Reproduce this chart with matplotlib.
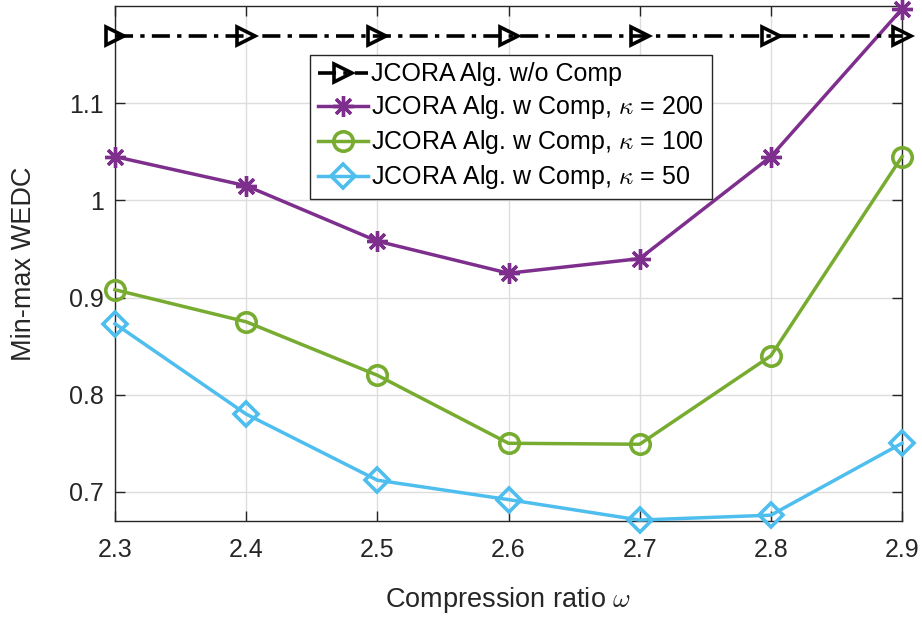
import matplotlib
matplotlib.use("Agg")
import matplotlib.pyplot as plt

plt.rcParams["font.family"] = ["Liberation Sans", "DejaVu Sans"]
plt.rcParams["mathtext.fontset"] = "cm"

# compression ratio on the x axis
omega = [2.3, 2.4, 2.5, 2.6, 2.7, 2.8, 2.9]

# min-max WEDC for each scheme
no_comp = [1.169, 1.169, 1.169, 1.169, 1.169, 1.169, 1.169]
comp_k200 = [1.045, 1.015, 0.958, 0.925, 0.940, 1.045, 1.197]
comp_k100 = [0.908, 0.875, 0.820, 0.750, 0.749, 0.840, 1.045]
comp_k50 = [0.873, 0.780, 0.712, 0.692, 0.671, 0.676, 0.750]

labels = ["JCORA Alg. w/o Comp",
          r"JCORA Alg. w Comp, $\kappa$ = 200",
          r"JCORA Alg. w Comp, $\kappa$ = 100",
          r"JCORA Alg. w Comp, $\kappa$ = 50"]

xticks = [2.3, 2.4, 2.5, 2.6, 2.7, 2.8, 2.9]
yticks = [0.7, 0.8, 0.9, 1.0, 1.1]
yticklabels = ["0.7", "0.8", "0.9", "1", "1.1"]

fig = plt.figure(figsize=(9.22, 6.20), dpi=100)
ax = fig.add_axes([115 / 922, 1 - 521 / 620, 787 / 922, 515 / 620])

ax.plot(omega, no_comp, color="black", linestyle=(0, (5, 2, 1.2, 2)), lw=2.6,
        marker=">", ms=13, mfc="none", mew=2.6, label=labels[0], clip_on=False, zorder=5)
ax.plot(omega, comp_k200, color="#7E2F8E", lw=2.5, marker=(8, 2, 0), ms=15, mew=2.4,
        label=labels[1], clip_on=False, zorder=4)
ax.plot(omega, comp_k100, color="#77AC30", lw=2.5, marker="o", ms=14, mfc="none", mew=2.6,
        label=labels[2], clip_on=False, zorder=4)
ax.plot(omega, comp_k50, color="#4DBEEE", lw=2.5, marker="D", ms=12, mfc="none", mew=2.6,
        label=labels[3], clip_on=False, zorder=4)

ax.set_xlim(2.3, 2.9)
ax.set_ylim(0.67, 1.2)
ax.set_xticks(xticks)
ax.set_xticklabels([f"{v:.1f}" for v in xticks])
ax.set_yticks(yticks)
ax.set_yticklabels(yticklabels)

ax.grid(True, color="#dddddd", lw=1.0)
ax.set_axisbelow(True)
for side in ax.spines.values():
    side.set_color("#262626")
    side.set_linewidth(1.0)
ax.tick_params(direction="in", length=7, width=1, colors="#262626", labelsize=18,
               top=True, right=True, pad=8)
ax.tick_params(axis="x", pad=12)

ax.set_xlabel(r"Compression ratio $\omega$", fontsize=19.5, color="#262626", labelpad=17)
ax.set_ylabel("Min-max WEDC", fontsize=19.5, color="#262626", labelpad=23)

leg = ax.legend(loc="upper left", bbox_to_anchor=(0.248, 0.905), fontsize=18,
                frameon=True, fancybox=False, edgecolor="#262626", framealpha=1,
                handlelength=2.0, handletextpad=0.15, borderpad=0.3, labelspacing=0.28,
                borderaxespad=0)
leg.get_frame().set_linewidth(1.0)

fig.savefig("out.png", dpi=100)
